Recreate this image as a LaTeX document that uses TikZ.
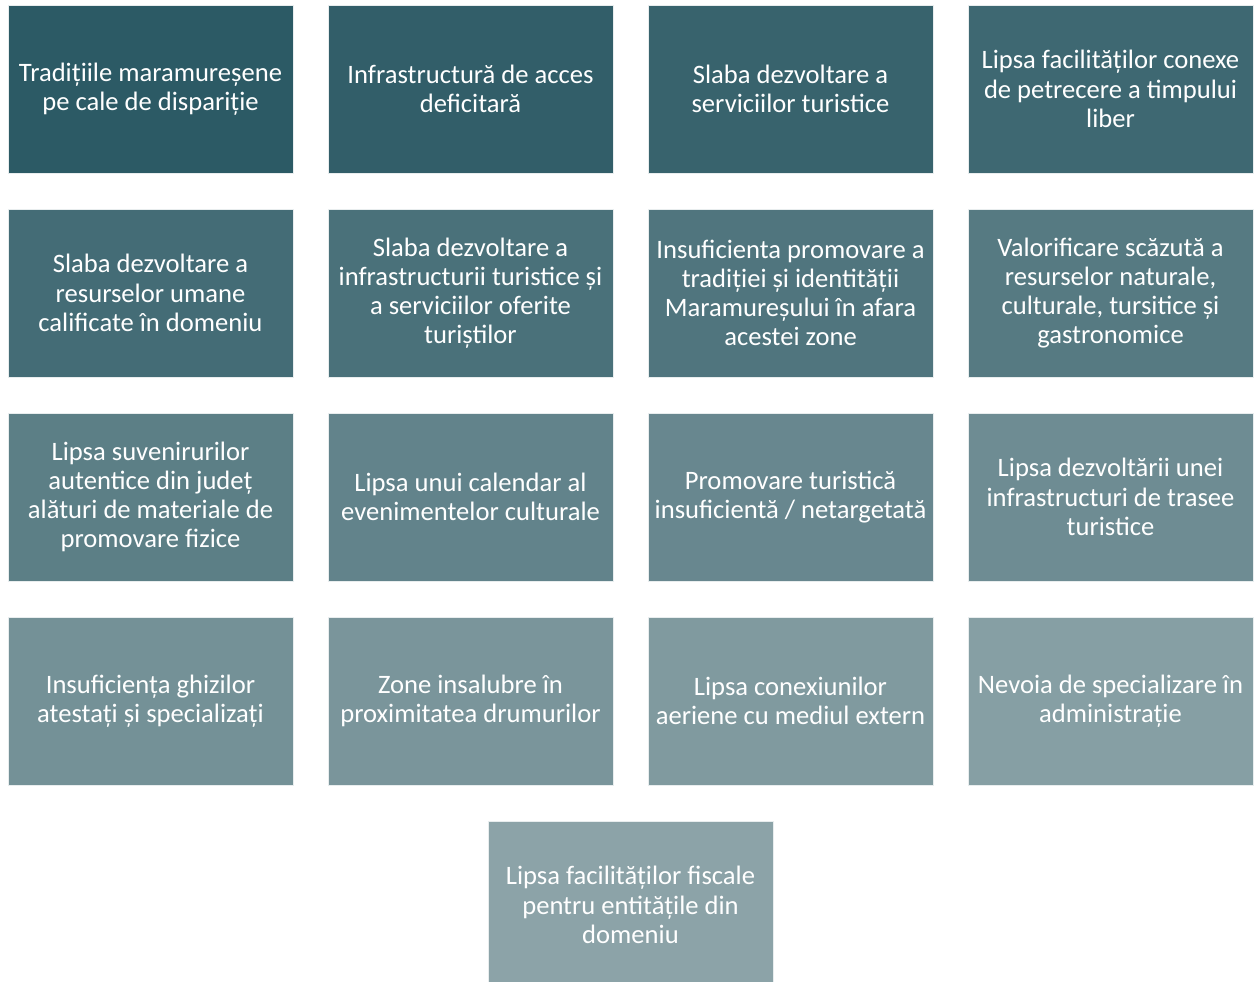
\documentclass[tikz,border=0pt]{standalone}
\usepackage{fontspec}
\setmainfont{Carlito}
\usepackage{xcolor}
\usetikzlibrary{positioning, calc}
\definecolor{wkDark}{HTML}{2C5A65}
\definecolor{wkLight}{HTML}{8CA3A8}

\begin{document}
\begin{tikzpicture}[
  x=0.5pt, y=-0.5pt,
  font=\fontsize{13.3}{14.6}\selectfont, node distance=18pt and 17.5pt,
  cell/.style={draw=white!80!wkLight, line width=0.4pt, fill=wkLight!#1!wkDark,
               text=white, minimum width=142.5pt, minimum height=84pt,
               align=center, inner sep=0pt, outer sep=0pt},
]
\useasboundingbox (0,0) rectangle (1254,981);

% row 1
\node[cell=0] (trad) at (150.5,89) {Tradițiile maramureșene\\pe cale de dispariție};
\node[cell=6, right=of trad] (infra) {Infrastructură de acces\\deficitară};
\node[cell=12, right=of infra] (serv) {Slaba dezvoltare a\\serviciilor turistice};
\node[cell=19, right=of serv] (liber) {Lipsa facilităților conexe\\de petrecere a timpului\\liber};

% row 2
\node[cell=25, below=of trad] (uman) {Slaba dezvoltare a\\resurselor umane\\calificate în domeniu};
\node[cell=31, right=of uman] (infturist) {Slaba dezvoltare a\\infrastructurii turistice și\\a serviciilor oferite\\turiștilor};
\node[cell=37, right=of infturist] (promtrad) {Insuficienta promovare a\\tradiției și identității\\Maramureșului în afara\\acestei zone};
\node[cell=44, right=of promtrad] (valor) {Valorificare scăzută a\\resurselor naturale,\\culturale, tursitice și\\gastronomice};

% row 3
\node[cell=50, below=of uman] (suven) {Lipsa suvenirurilor\\autentice din județ\\alături de materiale de\\promovare fizice};
\node[cell=56, right=of suven] (calend) {Lipsa unui calendar al\\evenimentelor culturale};
\node[cell=62, right=of calend] (promtur) {Promovare turistică\\insuficientă / netargetată};
\node[cell=69, right=of promtur] (trasee) {Lipsa dezvoltării unei\\infrastructuri de trasee\\turistice};

% row 4
\node[cell=75, below=of suven] (ghizi) {Insuficiența ghizilor\\atestați și specializați};
\node[cell=81, right=of ghizi] (zone) {Zone insalubre în\\proximitatea drumurilor};
\node[cell=87, right=of zone] (aer) {Lipsa conexiunilor\\aeriene cu mediul extern};
\node[cell=94, right=of aer] (admin) {Nevoia de specializare în\\administrație};

% last row
\node[cell=100, below=of $(zone.south)!0.5!(aer.south)$] (fiscal)
  {Lipsa facilităților fiscale\\pentru entitățile din\\domeniu};
\end{tikzpicture}
\end{document}
